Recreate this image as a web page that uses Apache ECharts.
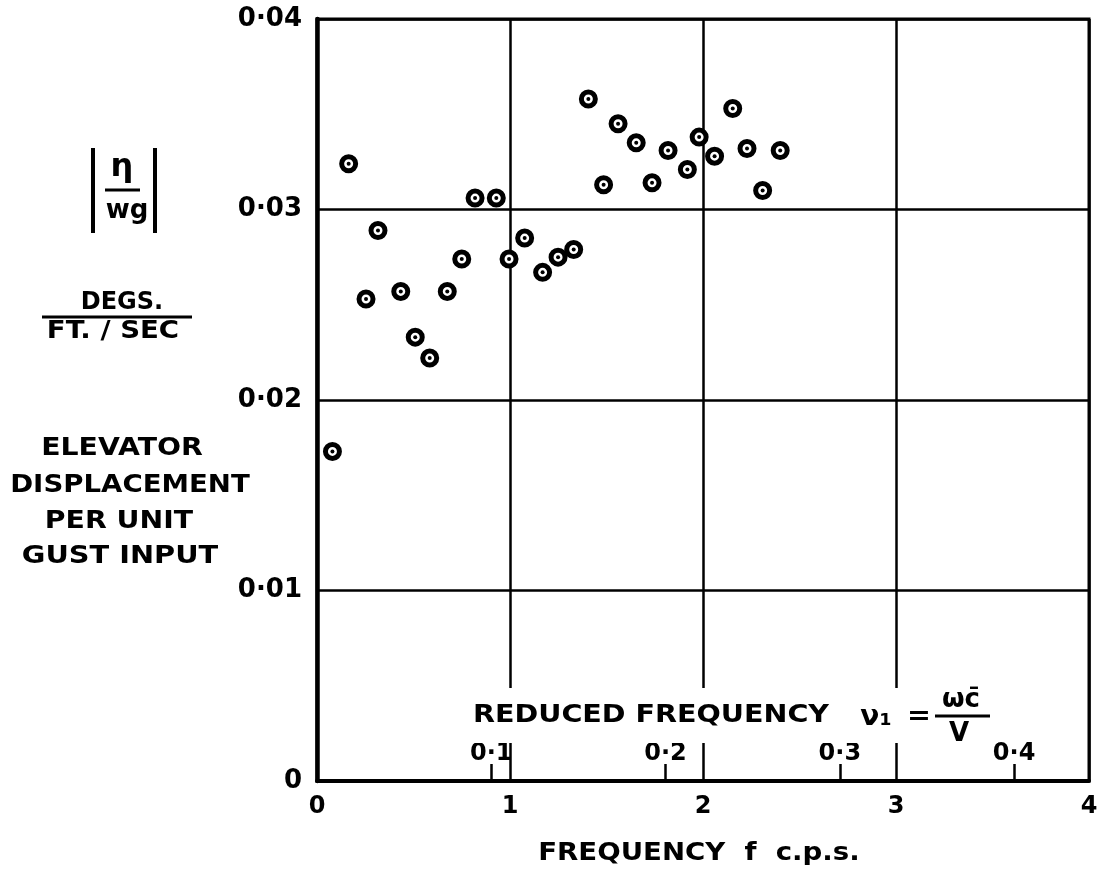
<!DOCTYPE html>
<html>
<head>
<meta charset="utf-8">
<script src="https://cdn.jsdelivr.net/npm/echarts@6/dist/echarts.min.js"></script>
<style>
html,body{margin:0;padding:0;background:#fff;}
#chart{width:1103px;height:874px;}
</style>
</head>
<body>
<div id="chart"></div>
<script>
// Frequency f (c.p.s.)
const fValues = [0.08, 0.164, 0.254, 0.316, 0.434, 0.509, 0.584, 0.675, 0.75, 0.819, 0.929, 0.995, 1.076, 1.169, 1.249, 1.33, 1.406, 1.485, 1.56, 1.654, 1.736, 1.819, 1.919, 1.98, 2.06, 2.154, 2.228, 2.309, 2.40];
// |eta / w_g|  (degs per ft/sec)
const magValues = [0.0173, 0.0324, 0.0253, 0.0289, 0.0257, 0.0233, 0.0222, 0.0257, 0.0274, 0.0306, 0.0306, 0.0274, 0.0285, 0.0267, 0.0275, 0.0279, 0.0358, 0.0313, 0.0345, 0.0335, 0.0314, 0.0331, 0.0321, 0.0338, 0.0328, 0.0353, 0.0332, 0.0310, 0.0331];

const yTickLabels = ['0', '0·01', '0·02', '0·03', '0·04'];
const fTickLabels = ['0', '1', '2', '3', '4'];
const nuTickValues = [0.1, 0.2, 0.3, 0.4];
const nuTickLabels = ['0·1', '0·2', '0·3', '0·4'];
const fPerNu = 9.03; // f (c.p.s.) corresponding to unit reduced frequency

const FONT = '"DejaVu Sans", sans-serif';
const points = fValues.map((f, i) => [f, magValues[i]]);

const chart = echarts.init(document.getElementById('chart'), null, {renderer: 'canvas'});

function txt(text, x, y, size, sx, align) {
  return {
    type: 'text', x: x, y: y, scaleX: sx || 1, z: 101,
    style: {
      text: text, fill: '#000',
      font: 'bold ' + size + 'px ' + FONT,
      textAlign: align || 'center', textVerticalAlign: 'middle'
    }
  };
}
function ln(x1, y1, x2, y2, w) {
  return {type: 'line', z: 101, shape: {x1: x1, y1: y1, x2: x2, y2: y2}, style: {stroke: '#000', lineWidth: w || 3}};
}

const option = {
  animation: false,
  backgroundColor: '#fff',
  grid: {left: 317, right: 14, top: 19, bottom: 93, show: true, borderColor: '#000', borderWidth: 3, backgroundColor: 'transparent'},
  xAxis: [
    {
      type: 'value', min: 0, max: 4, interval: 1, position: 'bottom',
      axisLine: {show: true, lineStyle: {color: '#000', width: 4}},
      axisTick: {show: false},
      splitLine: {show: true, lineStyle: {color: '#000', width: 2.5}},
      axisLabel: {
        color: '#000', fontFamily: FONT, fontWeight: 'bold', fontSize: 24, margin: 14,
        formatter: v => fTickLabels[Math.round(v)]
      }
    },
    {
      type: 'value', min: 0, max: 4 / fPerNu, position: 'bottom', gridIndex: 0,
      axisLine: {show: false},
      splitLine: {show: false},
      axisTick: {show: true, inside: true, length: 17, customValues: nuTickValues, lineStyle: {color: '#000', width: 2.5}},
      axisLabel: {
        show: true, inside: true, margin: 15, customValues: nuTickValues,
        color: '#000', fontFamily: FONT, fontWeight: 'bold', fontSize: 24,
        formatter: v => {
          const i = nuTickValues.findIndex(t => Math.abs(t - v) < 1e-6);
          return i >= 0 ? nuTickLabels[i] : '';
        }
      }
    }
  ],
  yAxis: {
    type: 'value', min: 0, max: 0.04, interval: 0.01,
    axisLine: {show: true, lineStyle: {color: '#000', width: 4.5}},
    axisTick: {show: false},
    splitLine: {show: true, lineStyle: {color: '#000', width: 2.5}},
    axisLabel: {
      color: '#000', fontFamily: FONT, fontWeight: 'bold', fontSize: 26, margin: 15,
      formatter: v => yTickLabels[Math.round(v / 0.01)]
    }
  },
  series: [
    {
      type: 'scatter', xAxisIndex: 0, yAxisIndex: 0, data: points,
      symbol: 'circle', symbolSize: 14, z: 3,
      itemStyle: {color: '#fff', borderColor: '#000', borderWidth: 5, opacity: 1}
    },
    {
      type: 'scatter', xAxisIndex: 0, yAxisIndex: 0, data: points,
      symbol: 'circle', symbolSize: 4, z: 4,
      itemStyle: {color: '#000', opacity: 1}
    }
  ],
  graphic: [
    // gap in grid behind reduced-frequency caption
    {type: 'rect', z: 100, shape: {x: 468, y: 688, width: 530, height: 55}, style: {fill: '#fff'}},
    txt('REDUCED FREQUENCY', 473, 716, 24, 1.19, 'left'),
    txt('ν₁', 876, 718, 28, 1.0),
    txt('=', 919, 717, 26, 1.1),
    txt('ωc̄', 961, 700, 26, 1.0),
    ln(935, 716, 990, 716, 3),
    txt('V', 959, 734, 26, 1.0),

    // y axis title block
    ln(93, 148, 93, 233, 4),
    ln(155, 148, 155, 233, 4),
    txt('η', 122, 168, 32, 1.0),
    ln(105, 190, 140, 190, 3),
    txt('wg', 127, 211, 26, 1.0),

    txt('DEGS.', 122, 303, 24, 1.0),
    ln(42, 317, 192, 317, 3),
    txt('FT. / SEC', 113, 332, 24, 1.15),

    txt('ELEVATOR', 122, 449, 24, 1.18),
    txt('DISPLACEMENT', 130, 486, 24, 1.15),
    txt('PER UNIT', 119, 522, 24, 1.18),
    txt('GUST INPUT', 120, 557, 24, 1.2),

    // x axis title
    txt('FREQUENCY  f  c.p.s.', 699, 854, 24, 1.15)
  ]
};
chart.setOption(option);
</script>
</body>
</html>
